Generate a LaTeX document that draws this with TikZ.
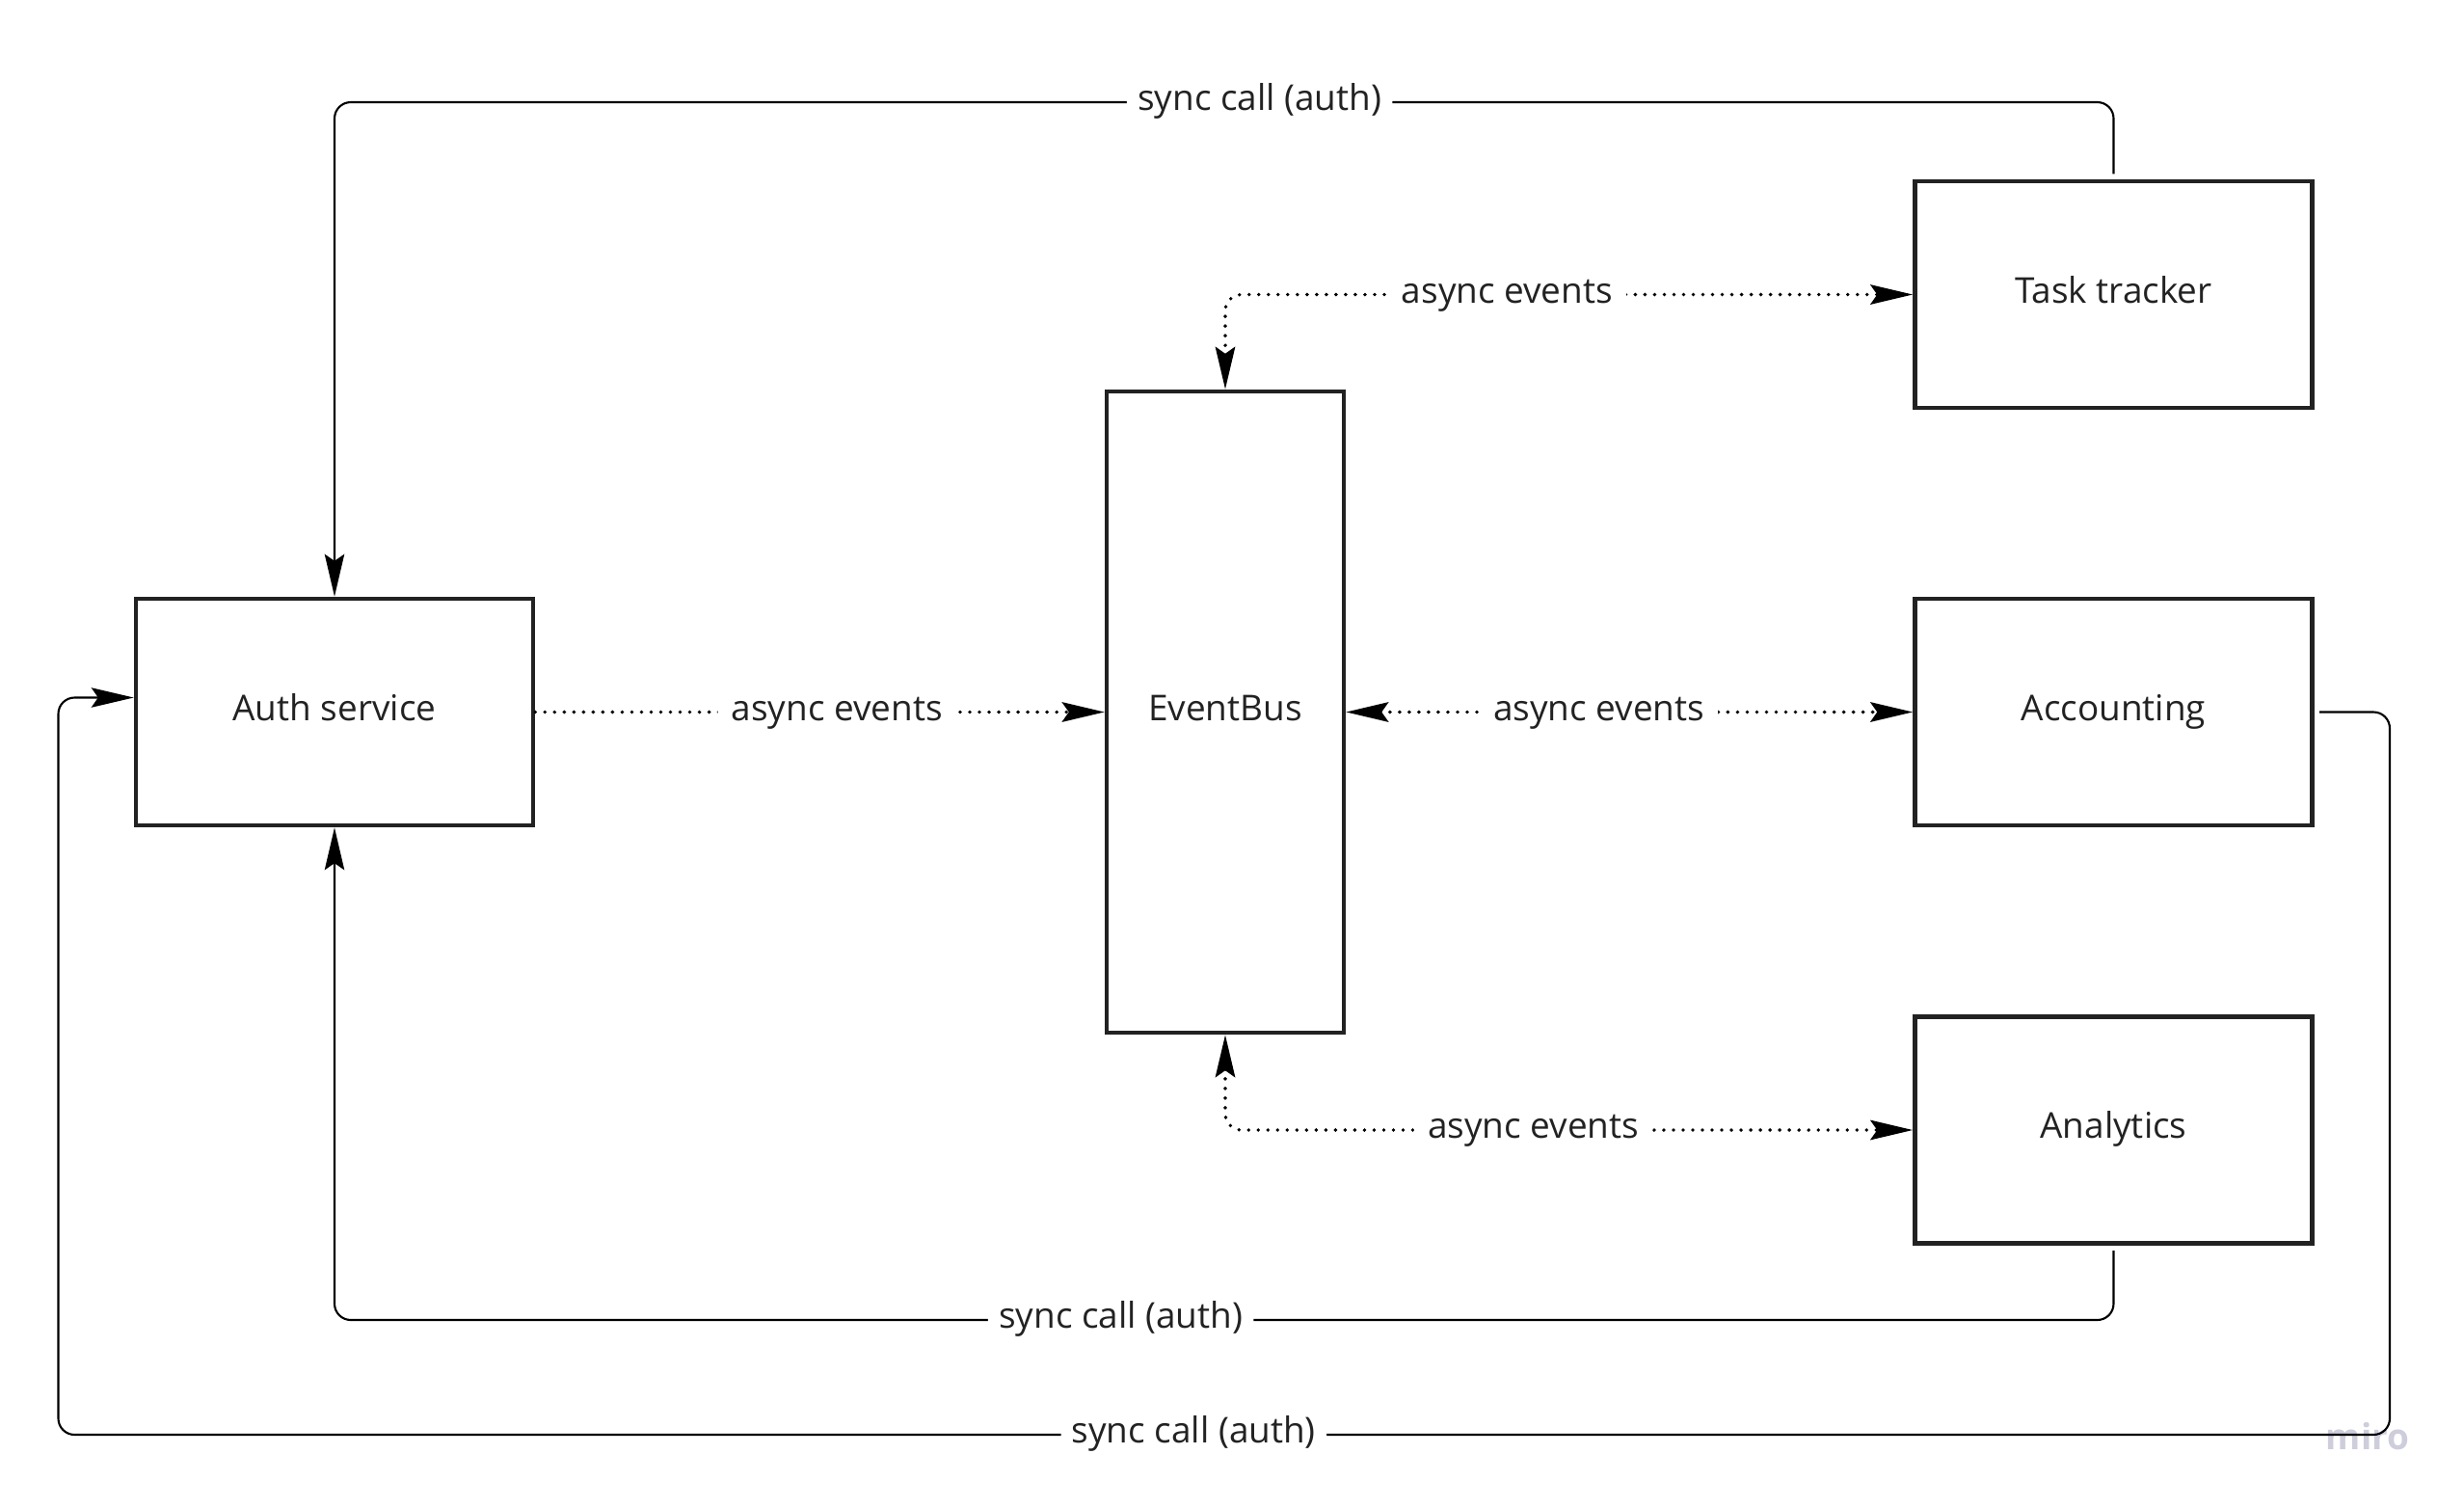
\documentclass[tikz,border=0pt]{standalone}
\usepackage{fontspec}
\setmainfont{Open Sans}
\usetikzlibrary{positioning,arrows.meta}
\definecolor{boxline}{HTML}{222222}
\definecolor{mirogrey}{HTML}{CDCDDC}

\begin{document}
\begin{tikzpicture}[
    font=\fontsize{10.5}{12.6}\selectfont,
    >={Stealth[length=12.5pt,width=5.8pt,inset=2pt]},
    service/.style={draw=boxline, line width=1.3pt, minimum width=4.12cm, minimum height=2.35cm, text=boxline, text height=0.73em, text depth=0.24em},
    bus/.style={service, minimum width=2.46cm, minimum height=6.65cm},
    sync/.style={line width=0.6pt, rounded corners=4.8pt, ->, shorten <=1.5pt},
    async/.style={line width=1.1pt, dash pattern=on 0pt off 2.85pt, line cap=round, rounded corners=4.8pt},
    lbl/.style={fill=white, inner xsep=3.2pt, inner ysep=2pt, text=boxline, text height=0.73em, text depth=0.24em},
    on grid
  ]
  \useasboundingbox (0,0) rectangle (25.56,-15.64);

  \node[service] (auth) at (3.47,-7.385) {Auth service};
  \node[bus, right=9.24cm of auth] (bus) {EventBus};
  \node[service, right=9.215cm of bus] (acc) {Accounting};
  \node[service, above=4.33cm of acc] (task) {Task tracker};
  \node[service, below=4.335cm of acc] (ana) {Analytics};

  \node[text=mirogrey, font=\fontsize{10.5}{12.6}\selectfont\bfseries] (miro) at (24.56,-14.90) {miro};

  \coordinate (toprow) at (0,-1.06);
  \coordinate (botrow) at (0,-13.69);
  \coordinate (outrow) at (0,-14.88);
  \coordinate (outleft) at (0.605,0);
  \coordinate (outright) at (24.79,0);
  \coordinate (authin) at ([yshift=0.15cm]auth.west);

  \draw[sync] (task.north) -- (task.north |- toprow) -- node[lbl, pos=0.48] {sync call (auth)} (auth.north |- toprow) -- (auth.north);
  \draw[sync] (ana.south) -- (ana.south |- botrow) -- node[lbl, pos=0.558] {sync call (auth)} (auth.south |- botrow) -- (auth.south);
  \draw[sync] (acc.east) -- (acc.east -| outright) -- (outright |- outrow) -- node[lbl, pos=0.513] {sync call (auth)} (outleft |- outrow) -- (outleft |- authin) -- (authin);

  \draw[async, ->] (auth.east) -- node[lbl, pos=0.53, inner xsep=4pt] {async events} (bus.west);
  \draw[async, <->] (bus.east) -- node[lbl, pos=0.446, inner xsep=4pt] {async events} (acc.west);
  \draw[async, <->] (bus.north) -- (bus.north |- task.west) -- node[lbl, pos=0.41, inner xsep=4pt] {async events} (task.west);
  \draw[async, <->] (bus.south) -- (bus.south |- ana.west) -- node[lbl, pos=0.448, inner xsep=4pt] {async events} (ana.west);
\end{tikzpicture}
\end{document}
